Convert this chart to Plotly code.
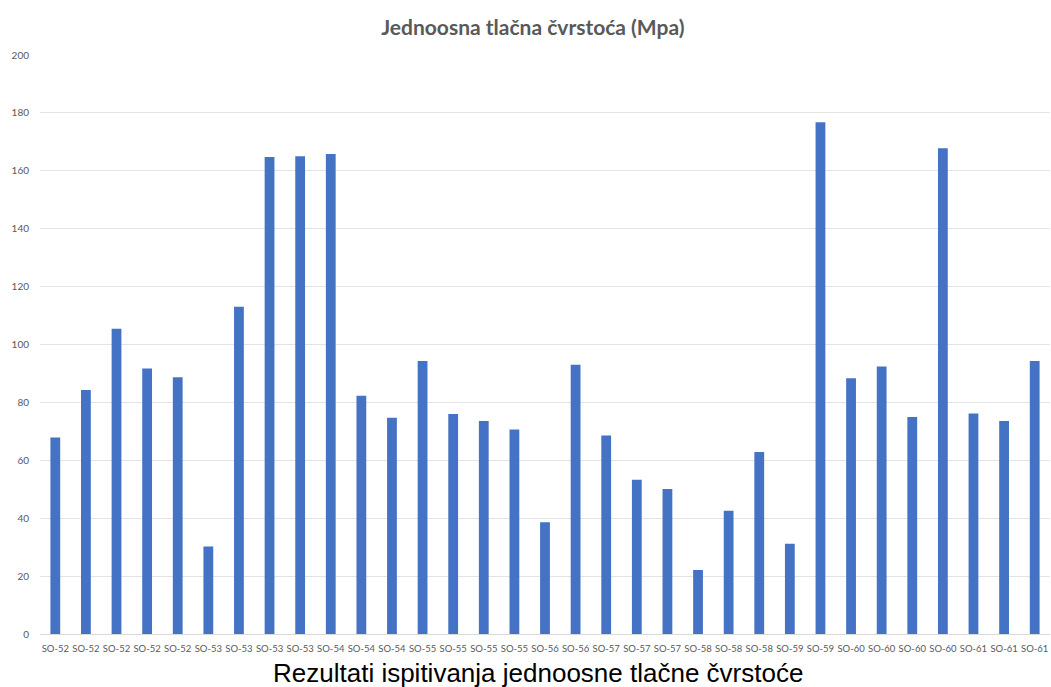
import plotly.graph_objects as go

categories = ["SO-52"] * 5 + ["SO-53"] * 4 + ["SO-54"] * 3 + ["SO-55"] * 4 + ["SO-56"] * 2 + \
             ["SO-57"] * 3 + ["SO-58"] * 3 + ["SO-59"] * 2 + ["SO-60"] * 4 + ["SO-61"] * 3
values = [67.9, 84.3, 105.4, 91.7, 88.7, 30.2, 113.0, 164.8, 165.0, 165.8,
          82.3, 74.7, 94.3, 76.0, 73.6, 70.6, 38.6, 93.0, 68.6, 53.3,
          50.1, 22.1, 42.6, 62.9, 31.2, 176.8, 88.3, 92.4, 75.0, 167.8,
          76.2, 73.6, 94.3]
y_ticks = [0, 20, 40, 60, 80, 100, 120, 140, 160, 180, 200]

positions = list(range(len(categories)))

W, H = 1051, 687

fig = go.Figure()
fig.add_trace(go.Bar(
    x=positions,
    y=values,
    marker=dict(color="#4472C4", line=dict(width=0)),
    width=0.32,
))

fig.update_layout(
    width=W,
    height=H,
    margin=dict(l=40, r=1, t=55, b=53),
    paper_bgcolor="white",
    plot_bgcolor="white",
    showlegend=False,
    title=dict(
        text="<b>Jednoosna tlačna čvrstoća (Mpa)</b>",
        x=0.507, xanchor="center",
        y=1 - 28 / H, yanchor="middle",
        font=dict(family="Lato", size=21, color="#595959"),
    ),
    xaxis=dict(
        tickmode="array",
        tickvals=positions,
        ticktext=categories,
        range=[-0.5, len(categories) - 0.5],
        showgrid=False,
        showline=True,
        linecolor="#d9d9d9",
        linewidth=1,
        ticks="outside",
        ticklen=6,
        tickcolor="rgba(0,0,0,0)",
        tickfont=dict(family="Lato", size=9.5, color="#595959"),
        tickangle=0,
        zeroline=False,
    ),
    yaxis=dict(
        range=[0, 200],
        tickmode="array",
        tickvals=y_ticks,
        showgrid=True,
        gridcolor="#e3e3e3",
        gridwidth=1,
        zeroline=False,
        showline=False,
        ticks="outside",
        ticklen=8,
        tickcolor="rgba(0,0,0,0)",
        tickfont=dict(family="Lato", size=10, color="#595959"),
    ),
    annotations=[
        dict(
            text="Rezultati ispitivanja jednoosne tlačne čvrstoće",
            xref="paper", yref="paper",
            x=(538 - 40) / 1010, y=0, xanchor="center", yanchor="top",
            yshift=-22,
            showarrow=False,
            font=dict(family="Liberation Sans", size=26, color="black"),
        )
    ],
)

fig.write_html(
    "out.html",
    config={"displayModeBar": False},
    post_script="document.body.style.margin='0';document.body.style.overflow='hidden';",
)
